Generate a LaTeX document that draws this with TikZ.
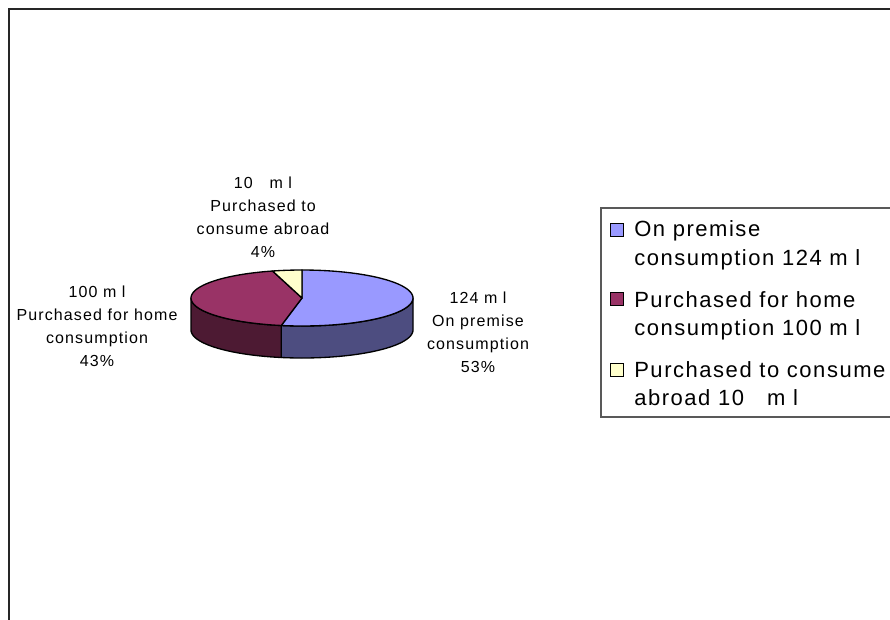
\documentclass[tikz,border=0pt]{standalone}
\usepackage{fontspec}
\setmainfont{Liberation Sans}
\newfontfamily\lblfont[LetterSpace=7]{Liberation Sans}
\newfontfamily\keyfont[LetterSpace=7]{Liberation Sans}
\usepackage{tikz}
\definecolor{premtop}{HTML}{9999FF}
\definecolor{premside}{HTML}{4D4D80}
\definecolor{hometop}{HTML}{993366}
\definecolor{homeside}{HTML}{4D1A33}
\definecolor{abroadtop}{HTML}{FFFFCC}

\begin{document}
\begin{tikzpicture}[x=0.75pt, y=-0.75pt,
        slice/.style={draw=black, line width=1pt, line join=round},
        lbl/.style={inner sep=0pt, anchor=north, align=center,
            font=\lblfont\fontsize{12pt}{17.25pt}\selectfont},
        key/.style={inner sep=0pt, anchor=north west, align=left,
            font=\keyfont\fontsize{16.5pt}{21.4pt}\selectfont},
        swatch/.style={draw=black, line width=1pt, minimum size=9.4pt, inner sep=0pt}]
        \useasboundingbox (0,0) rectangle (890,619);

        % Chart frame and legend box
        \draw[line width=1.1pt, black!85] (9,640) -- (9,9) -- (900,9);
        \draw[line width=0.9pt, black!65] (601,208) rectangle (900,417);

        % Sides
        \filldraw[slice, fill=premside] plot[domain=0:100.77, samples=40] ({302+111*cos(\x)}, {298+28*sin(\x)})
            -- plot[domain=100.77:0, samples=40] ({302+111*cos(\x)}, {330+28*sin(\x)}) -- cycle;
        \filldraw[slice, fill=homeside] plot[domain=100.77:180, samples=30] ({302+111*cos(\x)}, {298+28*sin(\x)})
            -- plot[domain=180:100.77, samples=30] ({302+111*cos(\x)}, {330+28*sin(\x)}) -- cycle;

        % Top
        \filldraw[slice, fill=premtop] (302,298) -- plot[domain=-90:100.77, samples=60] ({302+111*cos(\x)}, {298+28*sin(\x)}) -- cycle;
        \filldraw[slice, fill=hometop] (302,298) -- plot[domain=100.77:254.62, samples=50] ({302+111*cos(\x)}, {298+28*sin(\x)}) -- cycle;
        \filldraw[slice, fill=abroadtop] (302,298) -- plot[domain=254.62:270, samples=10] ({302+111*cos(\x)}, {298+28*sin(\x)}) -- cycle;

        % Slice labels
        \node[lbl] (abroadlbl) at (263,176.5) {10\ \ \ m l\\Purchased to\\consume abroad\\4\%};
        \node[lbl] (homelbl) at (97,285.5) {100 m l\\Purchased for home\\consumption\\43\%};
        \node[lbl] (premlbl) at (478,291.5) {124 m l\\On premise\\consumption\\53\%};

        % Legend
        \node[swatch, fill=premtop] (premkey) at (617,230) {};
        \node[swatch, fill=hometop] (homekey) at (617,299) {};
        \node[swatch, fill=abroadtop] (abroadkey) at (617,370) {};
        \node[key] (premtxt) at (634,220.7) {On premise\\consumption 124 m l};
        \node[key] (hometxt) at (634,291.2) {Purchased for home\\consumption 100 m l};
        \node[key] (abroadtxt) at (634,361.2) {Purchased to consume\\abroad 10\ \ \ m l};
    \end{tikzpicture}
\end{document}
